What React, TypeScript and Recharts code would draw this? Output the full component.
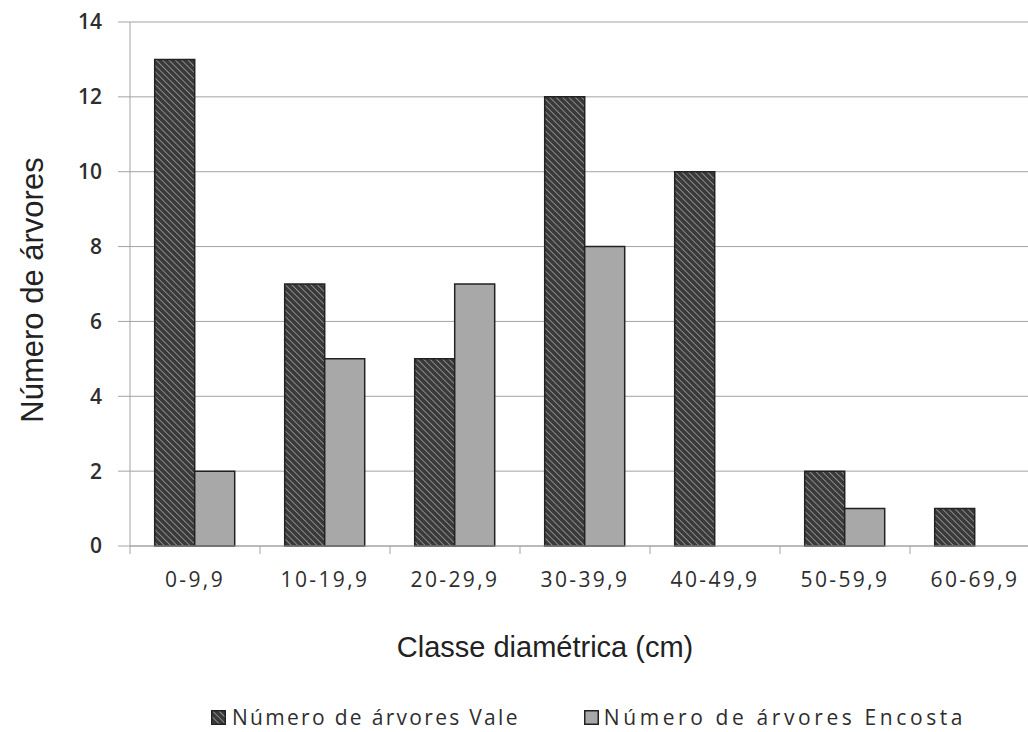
import React from 'react';
import { BarChart, Bar, XAxis, YAxis, CartesianGrid } from 'recharts';

const categories = ['0-9,9', '10-19,9', '20-29,9', '30-39,9', '40-49,9', '50-59,9', '60-69,9'];
const valeValues = [13, 7, 5, 12, 10, 2, 1];
const encostaValues = [2, 5, 7, 8, 0, 1, 0];
const yTicks = [0, 2, 4, 6, 8, 10, 12, 14];
const seriesNames = ['Número de árvores Vale', 'Número de árvores Encosta'];

const data = categories.map((c, i) => ({
  classe: c,
  vale: valeValues[i],
  encosta: encostaValues[i],
}));

const CHART_W = 1044;
const CHART_H = 732;
const X_AXIS_H = 30;
const MARGIN = { top: 22, right: 4, left: 0, bottom: 186 - X_AXIS_H };
const Y_AXIS_W = 130;
const PLOT_W = CHART_W - MARGIN.left - MARGIN.right - Y_AXIS_W;
const BAND = PLOT_W / categories.length;

const axisGrey = '#a3a3a3';
const textDark = '#2e2e2e';

// Custom x tick: label plus a small tick mark at the left edge of each category
const XTick = ({ x, y, payload }: any) => (
  <g>
    <line x1={x - BAND / 2} y1={y - 15} x2={x - BAND / 2} y2={y - 7} stroke={axisGrey} strokeWidth={1} />
    <text
      x={x}
      y={y + 26}
      textAnchor="middle"
      fill={textDark}
      fontFamily="'Open Sans', sans-serif"
      fontSize={21}
      letterSpacing={2.4}
    >
      {payload.value}
    </text>
  </g>
);

const HatchIcon = ({ id }: { id: string }) => (
  <svg width={15} height={15} style={{ display: 'block' }}>
    <defs>
      <pattern id={id} patternUnits="userSpaceOnUse" width={4.5} height={4.5} patternTransform="rotate(-45)">
        <rect width={4.5} height={4.5} fill="#3a3a3a" />
        <line x1={0} y1={0} x2={0} y2={4.5} stroke="#9c9c9c" strokeWidth={1.6} />
      </pattern>
    </defs>
    <rect x={0.75} y={0.75} width={13.5} height={13.5} fill={`url(#${id})`} stroke="#222" strokeWidth={1.5} />
  </svg>
);

const GreyIcon = () => (
  <svg width={15} height={15} style={{ display: 'block' }}>
    <rect x={0.75} y={0.75} width={13.5} height={13.5} fill="#a8a8a8" stroke="#222" strokeWidth={1.5} />
  </svg>
);

export default function App() {
  return (
    <div style={{ position: 'absolute', left: 0, top: 0, width: 1028, height: 732, overflow: 'hidden', background: '#fff' }}>
      <BarChart
        width={CHART_W}
        height={CHART_H}
        data={data}
        margin={MARGIN}
        barCategoryGap="19%"
        barGap={0}
      >
        <defs>
          <pattern id="hatchVale" patternUnits="userSpaceOnUse" width={4.5} height={4.5} patternTransform="rotate(-45)">
            <rect width={4.5} height={4.5} fill="#3a3a3a" />
            <line x1={0} y1={0} x2={0} y2={4.5} stroke="#9c9c9c" strokeWidth={1.6} />
          </pattern>
        </defs>
        <CartesianGrid vertical={false} stroke={axisGrey} strokeWidth={1} />
        <XAxis
          dataKey="classe"
          height={X_AXIS_H}
          axisLine={{ stroke: axisGrey }}
          tickLine={false}
          tickSize={7}
          tickMargin={8}
          interval={0}
          tick={<XTick />}
          label={{
            content: ({ viewBox }: any) => (
              <text
                x={viewBox.x + viewBox.width / 2 - 40}
                y={657}
                textAnchor="middle"
                fill="#222"
                fontFamily="'Liberation Sans', Arial, sans-serif"
                fontSize={29}
              >
                Classe diamétrica (cm)
              </text>
            ),
          }}
        />
        <YAxis
          width={Y_AXIS_W}
          domain={[0, 14]}
          ticks={yTicks}
          interval={0}
          axisLine={{ stroke: axisGrey }}
          tickLine={{ stroke: axisGrey }}
          tickSize={12}
          tickMargin={16}
          tick={{ fill: textDark, fontSize: 21, fontFamily: "'Open Sans', sans-serif", fontWeight: 600 }}
          label={{
            content: ({ viewBox }: any) => {
              const cy = viewBox.y + viewBox.height / 2 + 6;
              return (
                <text
                  transform={`translate(43, ${cy}) rotate(-90)`}
                  textAnchor="middle"
                  fill="#222"
                  fontFamily="'Liberation Sans', Arial, sans-serif"
                  fontSize={31}
                >
                  Número de árvores
                </text>
              );
            },
          }}
        />
        <Bar dataKey="vale" name={seriesNames[0]} fill="url(#hatchVale)" stroke="#222" strokeWidth={1.5} isAnimationActive={false} />
        <Bar dataKey="encosta" name={seriesNames[1]} fill="#a8a8a8" stroke="#222" strokeWidth={1.5} isAnimationActive={false} />
      </BarChart>

      {/* Legend */}
      <div
        style={{
          position: 'absolute',
          left: 211,
          top: 703,
          display: 'flex',
          alignItems: 'center',
          fontFamily: "'Open Sans', sans-serif",
          fontSize: 21,
          color: textDark,
        }}
      >
        <div style={{ display: 'flex', alignItems: 'center', marginRight: 64, letterSpacing: 2.3 }}>
          <HatchIcon id="hatchLegend" />
          <span style={{ marginLeft: 6 }}>{seriesNames[0]}</span>
        </div>
        <div style={{ display: 'flex', alignItems: 'center', letterSpacing: 3.6 }}>
          <GreyIcon />
          <span style={{ marginLeft: 5 }}>{seriesNames[1]}</span>
        </div>
      </div>
    </div>
  );
}
